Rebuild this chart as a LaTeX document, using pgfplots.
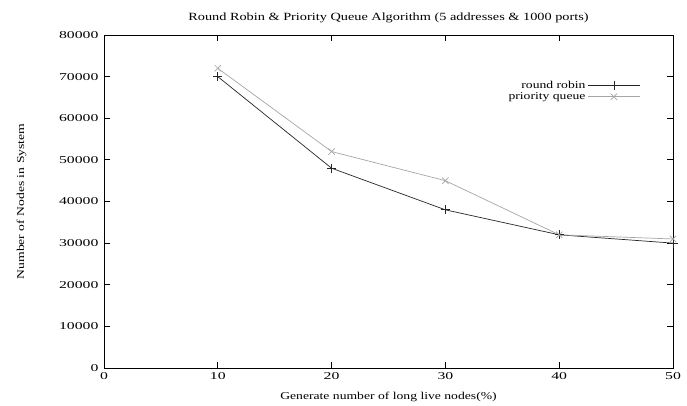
\documentclass[border=0pt]{standalone}
\usepackage{pgfplots}
\pgfplotsset{compat=1.18}
\usepackage{fontspec}
\setmainfont{Liberation Serif}[FakeStretch=1.3]
\newfontfamily\tickfont{Liberation Serif}[FakeStretch=1.5]
\begin{document}
\begin{tikzpicture}[x=1pt,y=1pt]
\useasboundingbox (-104,-37) rectangle (583,368);
\fill[white] (-104,-37) rectangle (583,368);
\begin{axis}[
  at={(0,0)}, anchor=south west,
  scale only axis, width=569pt, height=333pt,
  xmin=0, xmax=50, ymin=0, ymax=80000,
  xtick={0,10,...,50}, ytick={0,10000,...,80000},
  scaled y ticks=false,
  /pgf/number format/assume math mode=true,
  yticklabel={\pgfmathprintnumber[fixed,1000 sep={}]{\tick}},
  tick align=inside, major tick length=6pt,
  tick style={black, line width=0.8pt},
  axis line style={line width=0.9pt},
  ticklabel style={font=\tickfont\fontsize{10.5}{12}\selectfont},
  yticklabel style={xshift=-2pt},
  xticklabel style={yshift=-1pt},
  title={Round Robin \& Priority Queue Algorithm (5 addresses \& 1000 ports)},
  title style={font=\fontsize{11}{12}\selectfont, at={(axis description cs:0.5,1)}, anchor=south, yshift=3pt},
  xlabel={Generate number of long live nodes(\%)},
  ylabel={Number of Nodes in System},
  label style={font=\fontsize{10.5}{12}\selectfont},
  xlabel style={at={(axis description cs:0.5,-0.087)}, anchor=center},
  ylabel style={at={(axis description cs:-0.145,0.5)}, anchor=center},
  legend style={draw=none, fill=none, at={(0.948,0.875)}, anchor=north east,
    font=\fontsize{10.5}{12}\selectfont, row sep=-1pt,
    /tikz/every even column/.append style={column sep=7pt}},
  legend cell align=right,
  legend plot pos=right,
  legend image code/.code={\draw[mark repeat=2,mark phase=2] plot coordinates {(0pt,0pt) (26pt,0pt) (52pt,0pt)};},
]
\addplot[black!85, line width=0.7pt, mark=+, mark size=4.5pt, mark options={line width=0.7pt}]
 coordinates {(10,70000) (20,48000) (30,38000) (40,32000) (50,30000)};
\addlegendentry{round robin}
\addplot[gray!70, line width=0.7pt, mark=x, mark size=4.5pt, mark options={line width=0.7pt}]
 coordinates {(10,72000) (20,52000) (30,45000) (40,32000) (50,31000)};
\addlegendentry{priority queue}
\end{axis}
\end{tikzpicture}
\end{document}
